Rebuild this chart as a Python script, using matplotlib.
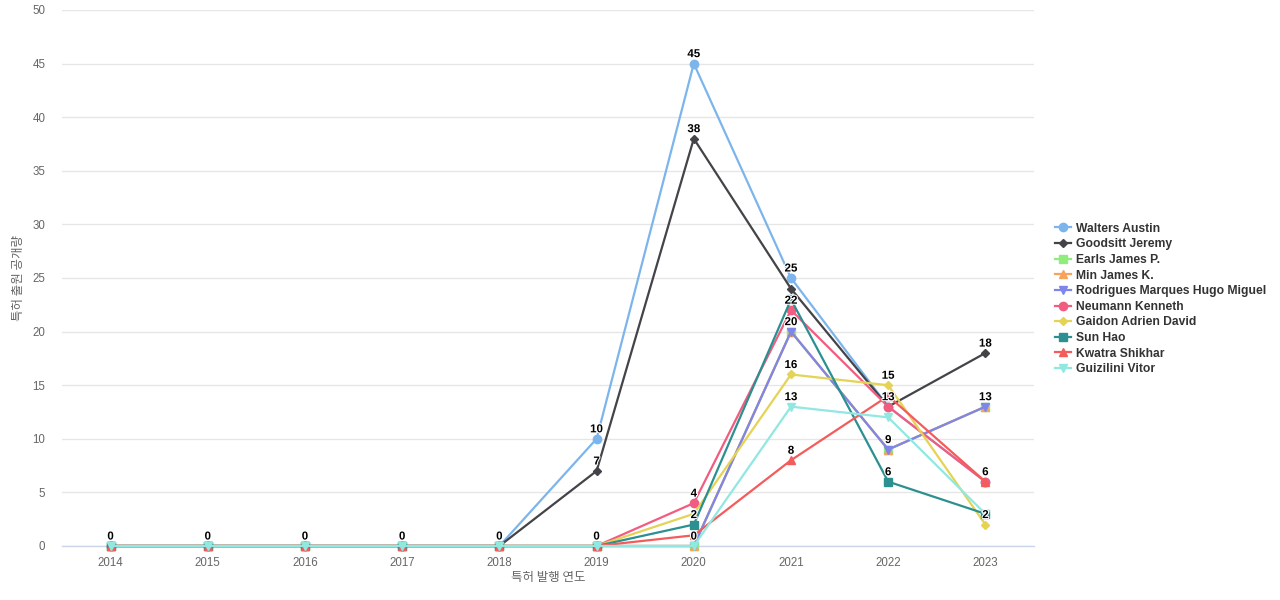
import matplotlib
matplotlib.use("Agg")
import matplotlib.pyplot as plt
from matplotlib.lines import Line2D
import matplotlib.patheffects as pe

years = ["2014", "2015", "2016", "2017", "2018", "2019", "2020", "2021", "2022", "2023"]

names = ["Walters Austin", "Goodsitt Jeremy", "Earls James P.", "Min James K.",
         "Rodrigues Marques Hugo Miguel", "Neumann Kenneth", "Gaidon Adrien David",
         "Sun Hao", "Kwatra Shikhar", "Guizilini Vitor"]

walters = [0, 0, 0, 0, 0, 10, 45, 25, 13, 6]
goodsitt = [0, 0, 0, 0, 0, 7, 38, 24, 13, 18]
earls = [0, 0, 0, 0, 0, 0, 0, 20, 9, 13]
min_jk = [0, 0, 0, 0, 0, 0, 0, 20, 9, 13]
rodrigues = [0, 0, 0, 0, 0, 0, 0, 20, 9, 13]
neumann = [0, 0, 0, 0, 0, 0, 4, 22, 13, 6]
gaidon = [0, 0, 0, 0, 0, 0, 3, 16, 15, 2]
sun_hao = [0, 0, 0, 0, 0, 0, 2, 23, 6, 3]
kwatra = [0, 0, 0, 0, 0, 0, 1, 8, 14, 6]
guizilini = [0, 0, 0, 0, 0, 0, 0, 13, 12, 3]

series = [walters, goodsitt, earls, min_jk, rodrigues, neumann, gaidon, sun_hao, kwatra, guizilini]

colors = ["#7cb5ec", "#434348", "#90ed7d", "#f7a35c", "#8085e9",
          "#f15c80", "#e4d354", "#2b908f", "#f45b5b", "#91e8e1"]
markers = ["o", "D", "s", "^", "v", "o", "D", "s", "^", "v"]
msizes = [6, 4.2, 5.5, 5.5, 5.5, 6, 4.2, 5.5, 5.5, 5.5]

x_title = "특허 발행 연도"
y_title = "특허 출원 공개량"

fig = plt.figure(figsize=(12.8, 6), dpi=100)
ax = fig.add_axes([62 / 1280, 54 / 600, (1034 - 62) / 1280, (546 - 10) / 600])

xs = list(range(len(years)))
handles = []
for i, (vals, name) in enumerate(zip(series, names)):
    ax.plot(xs, vals, color=colors[i], lw=1.6, marker=markers[i], ms=msizes[i],
            mec=colors[i], mfc=colors[i], zorder=3 + i, clip_on=False)
    handles.append(Line2D([0], [0], color=colors[i], lw=1.6, marker=markers[i],
                          ms=msizes[i], mfc=colors[i], mec=colors[i]))

# data labels with overlap hiding (greedy, in series order)
placed = {x: [] for x in xs}
for i, vals in enumerate(series):
    for x, v in zip(xs, vals):
        if any(abs(v - p) < 1.5 for p in placed[x]):
            continue
        placed[x].append(v)
        ax.annotate(str(v), (x, v), xytext=(0, 2.5), textcoords="offset points",
                    ha="center", va="bottom", fontsize=8.3, fontweight="bold",
                    color="#000000", family=["Liberation Sans", "DejaVu Sans"],
                    zorder=30,
                    path_effects=[pe.withStroke(linewidth=1.5, foreground="white")])

ax.set_xlim(-0.5, len(years) - 0.5)
ax.set_ylim(0, 50)
ax.set_yticks(range(0, 51, 5))
ax.set_xticks(xs)
ax.set_xticklabels(years)
ax.grid(axis="y", color="#e6e6e6", lw=1)
ax.set_axisbelow(True)
for s in ["top", "right", "left"]:
    ax.spines[s].set_visible(False)
ax.spines["bottom"].set_color("#ccd6eb")
ax.spines["bottom"].set_linewidth(1)
ax.tick_params(axis="both", length=0, labelsize=8.3, labelcolor="#666666")
ax.tick_params(axis="x", pad=8)
ax.tick_params(axis="y", pad=12)
for lab in ax.get_xticklabels() + ax.get_yticklabels():
    lab.set_family(["Liberation Sans", "DejaVu Sans"])

fig.text(548 / 1280, 1 - 578 / 600, x_title, ha="center", va="center",
         fontsize=9, color="#666666", family=["Noto Sans CJK KR", "DejaVu Sans"])
fig.text(19 / 1280, 1 - 278 / 600, y_title, ha="center", va="center", rotation=90,
         fontsize=9, color="#666666", family=["Noto Sans CJK KR", "DejaVu Sans"])

leg = fig.legend(handles, names, loc="center left", bbox_to_anchor=(1044 / 1280, 1 - 299 / 600),
                 frameon=False, handlelength=1.3, handletextpad=0.45, labelspacing=0.3,
                 prop={"family": ["Liberation Sans", "DejaVu Sans"], "weight": "bold", "size": 8.7})
for t in leg.get_texts():
    t.set_color("#333333")

fig.savefig("out.png", dpi=100)
